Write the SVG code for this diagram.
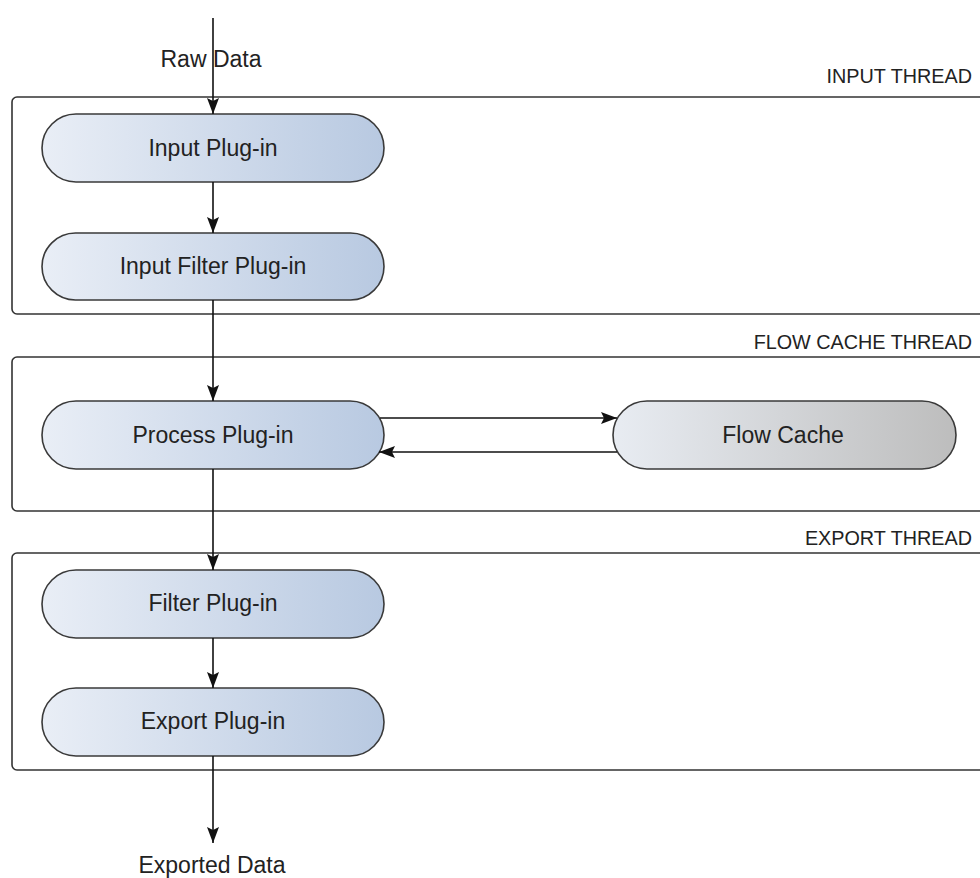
<svg xmlns="http://www.w3.org/2000/svg" width="980" height="878" viewBox="0 0 980 878">
<style>
.thread{fill:#ffffff;stroke:#333333;stroke-width:1.6}
.tlabel{font-family:"Liberation Sans",Arial,sans-serif;font-size:19.8px;fill:#222222;text-anchor:end}
.node{stroke:#3a3a3a;stroke-width:1.6}
.ntext{font-family:"Liberation Sans",Arial,sans-serif;font-size:23px;fill:#222222;text-anchor:middle}
.conn{stroke:#111111;stroke-width:1.6;fill:none}
</style>
<defs>
<linearGradient id="blue" x1="0" y1="0" x2="1" y2="0">
<stop offset="0" stop-color="#e9eef6"/>
<stop offset="1" stop-color="#b8c9e1"/>
</linearGradient>
<linearGradient id="grey" x1="0" y1="0" x2="1" y2="0">
<stop offset="0" stop-color="#e8ecf2"/>
<stop offset="1" stop-color="#bdbdbd"/>
</linearGradient>
<marker id="arr" viewBox="0 0 16 12" refX="16" refY="6" markerWidth="16" markerHeight="13" markerUnits="userSpaceOnUse" orient="auto">
<path d="M0,0 L16,6 L0,12 L3,6 z" fill="#111111"/>
</marker>
</defs>

<g id="input-thread">
<rect class="thread" x="12" y="97" width="1000" height="217" rx="5"/>
<text class="tlabel" x="972" y="83">INPUT THREAD</text>
</g>
<g id="flow-cache-thread">
<rect class="thread" x="12" y="357" width="1000" height="154" rx="5"/>
<text class="tlabel" x="972" y="349">FLOW CACHE THREAD</text>
</g>
<g id="export-thread">
<rect class="thread" x="12" y="553" width="1000" height="217" rx="5"/>
<text class="tlabel" x="972" y="545">EXPORT THREAD</text>
</g>

<g id="input-plugin">
<rect class="node" x="42" y="114" width="342" height="68" rx="34" fill="url(#blue)"/>
<text class="ntext" x="213" y="156">Input Plug-in</text>
</g>
<g id="input-filter-plugin">
<rect class="node" x="42" y="233" width="342" height="67" rx="33.5" fill="url(#blue)"/>
<text class="ntext" x="213" y="274">Input Filter Plug-in</text>
</g>
<g id="process-plugin">
<rect class="node" x="42" y="401" width="342" height="68" rx="34" fill="url(#blue)"/>
<text class="ntext" x="213" y="443">Process Plug-in</text>
</g>
<g id="flow-cache">
<rect class="node" x="613" y="401" width="343" height="68" rx="34" fill="url(#grey)"/>
<text class="ntext" x="783" y="443">Flow Cache</text>
</g>
<g id="filter-plugin">
<rect class="node" x="42" y="570" width="342" height="68" rx="34" fill="url(#blue)"/>
<text class="ntext" x="213" y="611">Filter Plug-in</text>
</g>
<g id="export-plugin">
<rect class="node" x="42" y="688" width="342" height="68" rx="34" fill="url(#blue)"/>
<text class="ntext" x="213" y="729">Export Plug-in</text>
</g>

<g id="labels">
<text class="ntext" x="211" y="67">Raw Data</text>
<text class="ntext" x="212" y="873">Exported Data</text>
</g>

<g id="connectors">
<line class="conn" x1="213" y1="18" x2="213" y2="114" marker-end="url(#arr)"/>
<line class="conn" x1="213" y1="182" x2="213" y2="233" marker-end="url(#arr)"/>
<line class="conn" x1="213" y1="300" x2="213" y2="401" marker-end="url(#arr)"/>
<line class="conn" x1="380" y1="418" x2="617" y2="418" marker-end="url(#arr)"/>
<line class="conn" x1="617" y1="452" x2="379" y2="452" marker-end="url(#arr)"/>
<line class="conn" x1="213" y1="469" x2="213" y2="570" marker-end="url(#arr)"/>
<line class="conn" x1="213" y1="638" x2="213" y2="688" marker-end="url(#arr)"/>
<line class="conn" x1="213" y1="756" x2="213" y2="843" marker-end="url(#arr)"/>
</g>
</svg>
